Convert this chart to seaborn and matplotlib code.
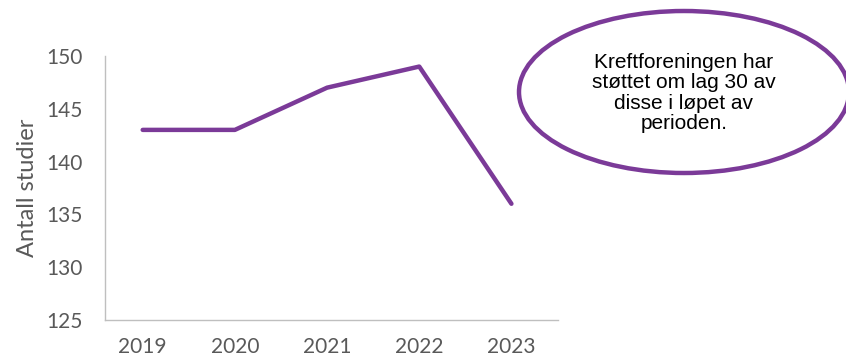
import matplotlib
matplotlib.use("Agg")
import matplotlib.pyplot as plt
from matplotlib.patches import Ellipse
import seaborn as sns
import pandas as pd

years = ["2019", "2020", "2021", "2022", "2023"]
counts = [143, 143, 147, 149, 136]
yticks = [125, 130, 135, 140, 145, 150]
note = "Kreftforeningen har\nstøttet om lag 30 av\ndisse i løpet av\nperioden."

sns.set_style("white")
plt.rcParams['font.family'] = ['Lato', 'DejaVu Sans']

purple = "#7B3A98"
gray = "#595959"

fig = plt.figure(figsize=(8.46, 3.59), dpi=100)
ax = fig.add_axes([0.124, 0.109, 0.535, 0.735])

df = pd.DataFrame({"year": years, "count": counts})
sns.lineplot(data=df, x="year", y="count", ax=ax, color=purple, linewidth=3.2,
             sort=False, solid_capstyle="round")

ax.set_ylim(125, 150)
ax.set_yticks(yticks)
ax.set_xlim(-0.41, 4.5)
ax.set_xlabel("")
ax.set_ylabel("Antall studier", fontsize=17, color=gray, labelpad=6)
ax.tick_params(axis="both", length=0, labelsize=15, colors=gray)
ax.tick_params(axis="x", pad=12)
ax.tick_params(axis="y", pad=16)
for s in ["top", "right"]:
    ax.spines[s].set_visible(False)
for s in ["left", "bottom"]:
    ax.spines[s].set_color("#BFBFBF")
    ax.spines[s].set_linewidth(1.0)

ell = Ellipse((684 / 846, 1 - 92 / 359), 330 / 846, 162 / 359,
              transform=fig.transFigure, facecolor="white", edgecolor=purple,
              linewidth=3.2)
fig.add_artist(ell)
fig.text(684 / 846, 1 - 93 / 359, note, ha="center", va="center",
         fontsize=15, family=["Liberation Sans", "DejaVu Sans"], color="black",
         linespacing=1.1)

fig.savefig("out.png", dpi=100)
